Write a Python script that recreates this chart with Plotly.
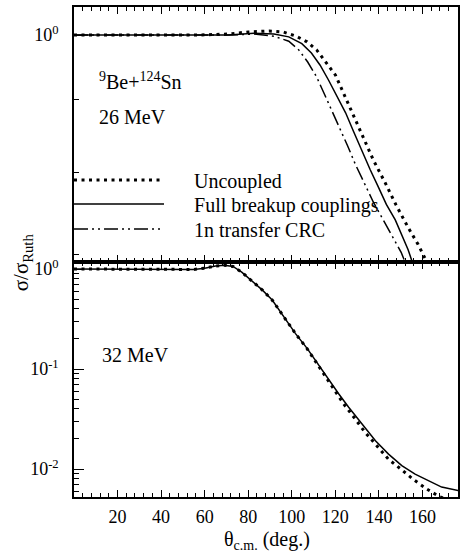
import plotly.graph_objects as go

# ---------------- data ----------------
# Top panel: 26 MeV
theta_26_unc = [0, 20, 40, 57.5, 71, 80, 89.5, 96, 102, 107, 111.4, 115.5, 120, 123.7, 128.3,
                132.9, 137.4, 142.9, 147.9, 153.4, 158, 161.6, 166, 176]
sig_26_unc = [1.0, 1.0, 1.0, 1.0, 1.0016, 1.005, 1.0065, 1.005, 0.998, 0.989, 0.976, 0.957, 0.937,
              0.910, 0.878, 0.847, 0.816, 0.786, 0.758, 0.731, 0.711, 0.693, 0.675, 0.64]

theta_26_full = [0, 20, 40, 65, 71, 82.6, 91.8, 98.6, 104.6, 109, 113, 116.9, 121, 124.7, 128.3,
                 132, 136, 139.7, 143.4, 147.5, 150.7, 153.4, 155.3, 160, 176]
sig_26_full = [1.0, 1.0, 1.0, 1.0, 1.0, 1.003, 1.0016, 0.997, 0.986, 0.971, 0.952, 0.929, 0.904,
               0.881, 0.855, 0.829, 0.803, 0.781, 0.759, 0.740, 0.721, 0.705, 0.691, 0.67, 0.62]

theta_26_crc = [0, 20, 40, 65, 71, 82.6, 91.8, 98.6, 103.2, 107.3, 111.4, 115, 118.3, 121.9, 125.6,
                129.2, 133.3, 137.4, 142, 146.1, 150.2, 152, 160, 176]
sig_26_crc = [1.0, 1.0, 1.0, 1.0, 1.0, 1.0016, 0.998, 0.990, 0.976, 0.957, 0.934, 0.908, 0.885,
              0.860, 0.835, 0.810, 0.786, 0.762, 0.740, 0.720, 0.702, 0.691, 0.66, 0.61]

# Bottom panel: 32 MeV
theta_32_full = [0, 20, 40, 50, 55, 60, 65, 69, 73, 77, 80.4, 86.5, 91, 96.4, 101.7, 107.1, 112.4,
                 117, 121.5, 126.1, 132.2, 138.4, 144.4, 150.5, 156.6, 162.7, 168.8, 176.4]
sig_32_full = [1.0, 1.0, 1.0, 1.0, 0.99, 1.02, 1.07, 1.09, 1.06, 0.93, 0.80, 0.615, 0.489, 0.332,
               0.226, 0.160, 0.109, 0.0769, 0.0565, 0.0415, 0.0282, 0.0192, 0.0141, 0.0108,
               0.0089, 0.0076, 0.0066, 0.0061]

theta_32_unc = [0, 20, 40, 50, 55, 60, 65, 69, 73, 77, 80.4, 86.5, 91, 96.4, 101.7, 107, 109.3,
                113.8, 118.4, 123.8, 128.8, 133.6, 139, 144.4, 150.5, 156, 162, 167.7, 170.7, 176]
sig_32_unc = [1.0, 1.0, 1.0, 1.0, 0.99, 1.02, 1.07, 1.09, 1.06, 0.93, 0.80, 0.615, 0.489, 0.332,
              0.226, 0.160, 0.134, 0.097, 0.066, 0.0448, 0.0323, 0.0233, 0.0171, 0.0125, 0.0098,
              0.0078, 0.0063, 0.0053, 0.0050, 0.0047]

series_names = ["Uncoupled", "Full breakup couplings", "1n transfer CRC"]
x_tick_vals = [20, 40, 60, 80, 100, 120, 140, 160]
y_bot_major = [1, 0.1, 0.01]
y_bot_major_text = ["10<sup>0</sup>", "10<sup>-1</sup>", "10<sup>-2</sup>"]
y_bot_minor = [0.9, 0.8, 0.7, 0.6, 0.5, 0.4, 0.3, 0.2,
               0.09, 0.08, 0.07, 0.06, 0.05, 0.04, 0.03, 0.02,
               0.009, 0.008, 0.007, 0.006, 0.005]
y_top_major = [1]
y_top_major_text = ["10<sup>0</sup>"]
y_top_minor = [0.9, 0.8, 0.7]

# ---------------- figure ----------------
FONT = "Liberation Serif"
W, H = 461, 553
ML, MR, MT, MB = 74, 1, 7, 56
PW, PH = W - ML - MR, H - MT - MB
split = 235 / PH


def px_x(p):
    return (p - ML) / PW


def px_y(p):
    return 1 - (p - MT) / PH


dot_style = dict(color="black", width=3, dash="3px,4.5px")
solid_style = dict(color="black", width=1.5)
dd_style = dict(color="black", width=1.5, dash="14px,4px,2px,4px,2px,4px")
PAD = "\u00a0" * 5

fig = go.Figure()
fig.add_trace(go.Scatter(x=theta_26_unc, y=sig_26_unc, xaxis="x2", yaxis="y2", mode="lines",
                         line=dot_style, name=PAD + series_names[0], legend="legend"))
fig.add_trace(go.Scatter(x=theta_26_full, y=sig_26_full, xaxis="x2", yaxis="y2", mode="lines",
                         line=solid_style, name=PAD + series_names[1], legend="legend2"))
fig.add_trace(go.Scatter(x=theta_26_crc, y=sig_26_crc, xaxis="x2", yaxis="y2", mode="lines",
                         line=dd_style, name=PAD + series_names[2], legend="legend3"))
fig.add_trace(go.Scatter(x=theta_32_full, y=sig_32_full, xaxis="x", yaxis="y", mode="lines",
                         line=solid_style, showlegend=False))
fig.add_trace(go.Scatter(x=theta_32_unc, y=sig_32_unc, xaxis="x", yaxis="y", mode="lines",
                         line=dot_style, showlegend=False))

xcommon = dict(showline=True, linecolor="black", linewidth=1.5, mirror="ticks",
               ticks="inside", tickmode="array", tickvals=x_tick_vals, ticklen=7, tickwidth=1.2,
               tickcolor="black", minor=dict(ticks="inside", dtick=4, tick0=0, ticklen=4,
                                             tickwidth=1, tickcolor="black"),
               showgrid=False, zeroline=False, ticklabelstandoff=3,
               tickfont=dict(family=FONT, size=18, color="black"))

ycommon = dict(type="log", showline=True, linecolor="black", linewidth=1.5, mirror=True,
               ticks="inside", tickmode="array", ticklen=10, tickwidth=1.2, tickcolor="black",
               showgrid=False, zeroline=False, ticklabelstandoff=10,
               tickfont=dict(family=FONT, size=18, color="black"))

leg_common = dict(x=-5 / PW, xanchor="left", yanchor="middle", bgcolor="rgba(0,0,0,0)",
                  borderwidth=0, itemwidth=90, font=dict(family=FONT, size=20, color="black"))

fig.update_layout(
    width=W, height=H, margin=dict(l=ML, r=MR, t=MT, b=MB),
    paper_bgcolor="white", plot_bgcolor="white",
    xaxis=dict(anchor="y", domain=[0, 1], range=[0, 176.3], **xcommon),
    xaxis2=dict(anchor="y2", domain=[0, 1], matches="x", showticklabels=False, **xcommon),
    yaxis=dict(anchor="x", domain=[0, split], range=[-2.28, 0.07], tickvals=y_bot_major,
               ticktext=y_bot_major_text,
               minor=dict(tickmode="array", tickvals=y_bot_minor, ticks="inside", ticklen=5,
                          tickwidth=1, tickcolor="black"), **ycommon),
    yaxis2=dict(anchor="x2", domain=[split, 1], range=[-0.1605, 0.0198], tickvals=y_top_major,
                ticktext=y_top_major_text,
                minor=dict(tickmode="array", tickvals=y_top_minor, ticks="inside", ticklen=5,
                           tickwidth=1, tickcolor="black"), **ycommon),
    yaxis3=dict(overlaying="y", side="right", anchor="x", type="log", range=[-2.28, 0.07],
                tickmode="array", tickvals=y_bot_major, ticks="inside", ticklen=8, tickwidth=1.2,
                tickcolor="black", showticklabels=False, showgrid=False, zeroline=False,
                showline=False),
    yaxis4=dict(overlaying="y2", side="right", anchor="x2", type="log", range=[-0.1605, 0.0198],
                tickmode="array", tickvals=y_top_major, ticks="inside", ticklen=8, tickwidth=1.2,
                tickcolor="black", showticklabels=False, showgrid=False, zeroline=False,
                showline=False),
    legend=dict(y=px_y(180), **leg_common),
    legend2=dict(y=px_y(204), **leg_common),
    legend3=dict(y=px_y(229), **leg_common),
    font=dict(family=FONT, color="black"),
    showlegend=True,
)

annots = [
    dict(text="<sup>9</sup>Be+<sup>124</sup>Sn", x=px_x(97), y=px_y(81), xanchor="left"),
    dict(text="26 MeV", x=px_x(97), y=px_y(117), xanchor="left"),
    dict(text="32 MeV", x=px_x(100), y=px_y(355), xanchor="left"),
    dict(text="θ<sub>c.m.</sub> (deg.)", x=px_x(268), y=px_y(540), xanchor="center"),
]
for a in annots:
    fig.add_annotation(text=a["text"], x=a["x"], y=a["y"], xref="paper", yref="paper",
                       xanchor=a["xanchor"], yanchor="middle", showarrow=False,
                       font=dict(family=FONT, size=20, color="black"))
fig.add_annotation(text="σ/σ<sub>Ruth</sub>", x=px_x(22), y=px_y(262), xref="paper", yref="paper",
                   xanchor="center", yanchor="middle", textangle=-90, showarrow=False,
                   font=dict(family=FONT, size=21, color="black"))

fig.write_html("out.html", config={"displayModeBar": False},
               post_script="document.body.style.margin='0px';")
